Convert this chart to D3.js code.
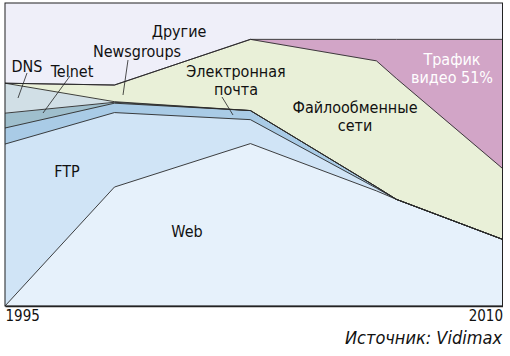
<!DOCTYPE html>
<html>
<head>
<meta charset="utf-8">
<script src="https://cdn.jsdelivr.net/npm/d3@7"></script>
<style>
html, body { margin: 0; padding: 0; background: #ffffff; }
svg text { font-family: "Liberation Sans Narrow", "DejaVu Sans Condensed", "Liberation Sans", sans-serif; fill: #111; }
</style>
</head>
<body>
<svg id="chart" width="510" height="356"></svg>
<script>
// ---- data (shares of internet traffic, %) ----
const years = [1995, 1998.3, 2002.4, 2006.2, 2006.8, 2010];
const web    = [0,    39.3, 53.6, 38.0, 35.2, 22.0];
const ftp    = [53.5, 24.6,  7.9,  0.9,  0,    0];
const email  = [5.3,   3.1,  3.0,  0.4,  0,    0];
const telnet = [4.9,   0.3,  0,    0,    0,    0];
const dns    = [9.9,   0.2,  0,    0,    0,    0];
const p2p    = [0,     5.5, 23.5, 41.6, 39.9, 23.4];   // Newsgroups + file sharing
const video  = [0,     0,    0,    7.1, 12.9, 42.6];
const others = [26.5, 27.1, 12.0, 12.0, 12.0, 12.0];
const seriesKeys = ["web", "ftp", "email", "telnet", "dns", "p2p", "video", "others"];
const seriesData = { web, ftp, email, telnet, dns, p2p, video, others };
const tickYears = [1995, 2010];
const tickLabels = ["1995", "2010"];
const colors = {
  web: "#e6f1fb", ftp: "#d0e4f6", email: "#a9cbe6", telnet: "#9fbfcd",
  dns: "#d1dfe6", p2p: "#e9f0d8", video: "#d2a5c7", others: "#efeff9"
};

const rows = years.map((y, i) => {
  const r = { year: y };
  seriesKeys.forEach(k => r[k] = seriesData[k][i]);
  return r;
});

const svg = d3.select("#chart");
const L = 5, R = 502.5, T = 3, B = 306;
const x = d3.scaleLinear().domain([1995, 2010]).range([L, R]);
const y = d3.scaleLinear().domain([0, 1]).range([B, T]);

const stack = d3.stack().keys(seriesKeys).offset(d3.stackOffsetExpand);
const layers = stack(rows);

const area = d3.area()
  .x(d => x(d.data.year))
  .y0(d => y(d[0]))
  .y1(d => y(d[1]));
const topLine = d3.line()
  .x(d => x(d.data.year))
  .y(d => y(d[1]));

svg.append("g").selectAll("path")
  .data(layers).join("path")
  .attr("d", area)
  .attr("fill", d => colors[d.key])
  .attr("stroke", d => colors[d.key])
  .attr("stroke-width", 0.5);

svg.append("g").selectAll("path")
  .data(layers.filter(l => l.key !== "others")).join("path")
  .attr("d", topLine)
  .attr("fill", "none")
  .attr("stroke", "#2a2a2a")
  .attr("stroke-width", 0.9);

// frame
svg.append("rect")
  .attr("x", L).attr("y", T).attr("width", R - L).attr("height", B - T)
  .attr("fill", "none").attr("stroke", "#222").attr("stroke-width", 1);

// bottom axis
const axis = svg.append("g")
  .attr("transform", `translate(0,${B})`)
  .call(d3.axisBottom(x).tickValues(tickYears).tickSize(0).tickPadding(4)
        .tickFormat((d, i) => tickLabels[i]));
axis.select(".domain").attr("stroke", "#222").attr("stroke-width", 1.6);
axis.selectAll("text")
  .attr("font-size", 15)
  .attr("font-family", null)
  .attr("fill", "#111")
  .attr("text-anchor", (d, i) => i === 0 ? "start" : "end")
  .attr("dy", "0.71em");

// labels
const labels = [
  { t: "Другие", x: 179, y: 37, a: "middle" },
  { t: "Newsgroups", x: 137, y: 57, a: "middle" },
  { t: "DNS", x: 27, y: 72, a: "middle" },
  { t: "Telnet", x: 72, y: 77, a: "middle" },
  { t: "Электронная", x: 236, y: 77, a: "middle" },
  { t: "почта", x: 236, y: 95, a: "middle" },
  { t: "Файлообменные", x: 355, y: 113, a: "middle" },
  { t: "сети", x: 355, y: 131, a: "middle" },
  { t: "Трафик", x: 452, y: 65, a: "middle", c: "#ffffff" },
  { t: "видео 51%", x: 452, y: 83, a: "middle", c: "#ffffff" },
  { t: "FTP", x: 67, y: 177, a: "middle" },
  { t: "Web", x: 187, y: 237, a: "middle" }
];
svg.append("g").selectAll("text").data(labels).join("text")
  .attr("x", d => d.x).attr("y", d => d.y)
  .attr("text-anchor", d => d.a)
  .attr("font-size", 16)
  .style("fill", d => d.c || "#111")
  .text(d => d.t);

// leader lines
const leaders = [
  [[27, 73], [18, 98]],
  [[70, 76], [43, 113]],
  [[128, 60], [123, 95]],
  [[222, 97], [233, 115]]
];
svg.append("g").selectAll("line").data(leaders).join("line")
  .attr("x1", d => d[0][0]).attr("y1", d => d[0][1])
  .attr("x2", d => d[1][0]).attr("y2", d => d[1][1])
  .attr("stroke", "#222").attr("stroke-width", 0.8);

// source
svg.append("text")
  .attr("x", 502).attr("y", 344)
  .attr("text-anchor", "end")
  .attr("font-size", 18)
  .attr("font-style", "italic")
  .text("Источник: Vidimax");
</script>
</body>
</html>
